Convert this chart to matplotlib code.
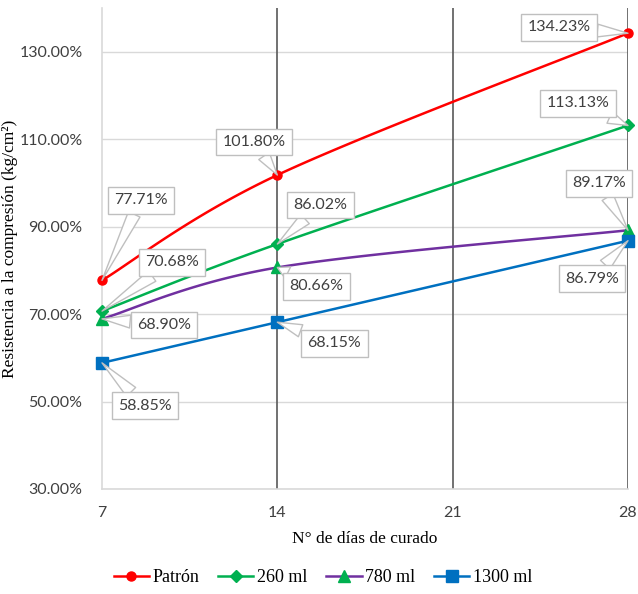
import numpy as np
import matplotlib
matplotlib.use("Agg")
import matplotlib.pyplot as plt
from matplotlib.lines import Line2D

# datos
dias = [7, 14, 28]
series = ["Patrón", "260 ml", "780 ml", "1300 ml"]
patron = [77.71, 101.80, 134.23]
ml260 = [70.68, 86.02, 113.13]
ml780 = [68.90, 80.66, 89.17]
ml1300 = [58.85, 68.15, 86.79]
valores = [patron, ml260, ml780, ml1300]
xticks = [7, 14, 21, 28]
yticks = [30, 50, 70, 90, 110, 130]

line_colors = ["#ff0000", "#00b050", "#7030a0", "#0070c0"]
marker_colors = ["#ff0000", "#00b050", "#00b050", "#0070c0"]
markers = ["o", "D", "^", "s"]
msizes = [6.5, 6, 8.5, 9]

# label offsets (pixels) for each point
offsets = [
    [(39, 80), (-23, 33), (-69, 6)],
    [(70, 49), (43, 39), (-50, 22)],
    [(62, -6), (39, -19), (-29, 47)],
    [(43, -43), (57, -21), (-36, -38)],
]

fig = plt.figure(figsize=(6.38, 5.94), dpi=100)
ax = fig.add_axes([102 / 638, 105 / 594, 526 / 638, 481 / 594])
ax.set_xlim(7, 28)
ax.set_ylim(30, 140)

ax.set_yticks(yticks)
ax.set_yticklabels([f"{v:.2f}%" for v in yticks], fontsize=11.5, family="Lato", color="#404040")
ax.set_xticks(xticks)
ax.set_xticklabels([str(v) for v in xticks], fontsize=11.5, family="Lato", color="#404040")
ax.tick_params(length=0, pad=12)
ax.tick_params(axis="y", pad=14)
ax.grid(axis="y", color="#d9d9d9", lw=1)
for x in xticks[1:]:
    ax.axvline(x, color="#595959", lw=1.2, zorder=1)
for s in ["top", "right"]:
    ax.spines[s].set_visible(False)
for s in ["left", "bottom"]:
    ax.spines[s].set_color("#d9d9d9")
    ax.spines[s].set_linewidth(1.2)
ax.set_axisbelow(True)

ax.set_xlabel("N° de días de curado", family="Liberation Serif", fontsize=12.5, labelpad=8)
ax.set_ylabel("Resistencia a la compresión (kg/cm²)", family="Liberation Serif", fontsize=12.5)
ax.yaxis.set_label_coords(-84 / 526, 0.5)


def smooth(xs, ys):
    # Excel-like smoothed line (Bezier with 1/6 tangents), in display space
    pts = ax.transData.transform(np.column_stack([xs, ys]))
    n = len(pts)
    out = []
    t = np.linspace(0, 1, 40)[:, None]
    for i in range(n - 1):
        p0 = pts[max(i - 1, 0)]
        p1 = pts[i]
        p2 = pts[i + 1]
        p3 = pts[min(i + 2, n - 1)]
        c1 = p1 + (p2 - p0) / 6
        c2 = p2 - (p3 - p1) / 6
        seg = ((1 - t) ** 3) * p1 + 3 * ((1 - t) ** 2) * t * c1 + 3 * (1 - t) * t ** 2 * c2 + t ** 3 * p2
        out.append(seg)
    out = np.vstack(out)
    return ax.transData.inverted().transform(out)


handles = []
for k, ys in enumerate(valores):
    curve = smooth(dias, ys)
    ax.plot(curve[:, 0], curve[:, 1], color=line_colors[k], lw=1.8, zorder=3, clip_on=False)
    ax.plot(dias, ys, linestyle="none", marker=markers[k], ms=msizes[k],
            color=marker_colors[k], zorder=4, clip_on=False)
    handles.append(Line2D([], [], color=line_colors[k], lw=1.8, marker=markers[k],
                          ms=msizes[k], mfc=marker_colors[k], mec=marker_colors[k]))

for k, ys in enumerate(valores):
    for i, (x, y) in enumerate(zip(dias, ys)):
        dx, dy = offsets[k][i]
        ax.annotate(f"{y:.2f}%", xy=(x, y), xytext=(dx, dy), textcoords="offset pixels",
                    ha="center", va="center", fontsize=11.5, family="Lato", color="#404040",
                    bbox=dict(boxstyle="square,pad=0.4", fc="white", ec="#bfbfbf", lw=1),
                    arrowprops=dict(arrowstyle="wedge,tail_width=0.8", fc="white",
                                    ec="#bfbfbf", lw=1, shrinkA=0, shrinkB=0),
                    zorder=5, annotation_clip=False)

fig.legend(handles, series, loc="center", bbox_to_anchor=(323 / 638, 1 - 578 / 594), ncol=4,
           frameon=False, prop={"family": "Liberation Serif", "size": 13},
           handlelength=1.95, columnspacing=1.05, handletextpad=0.2)

fig.savefig("out.png", dpi=100)
